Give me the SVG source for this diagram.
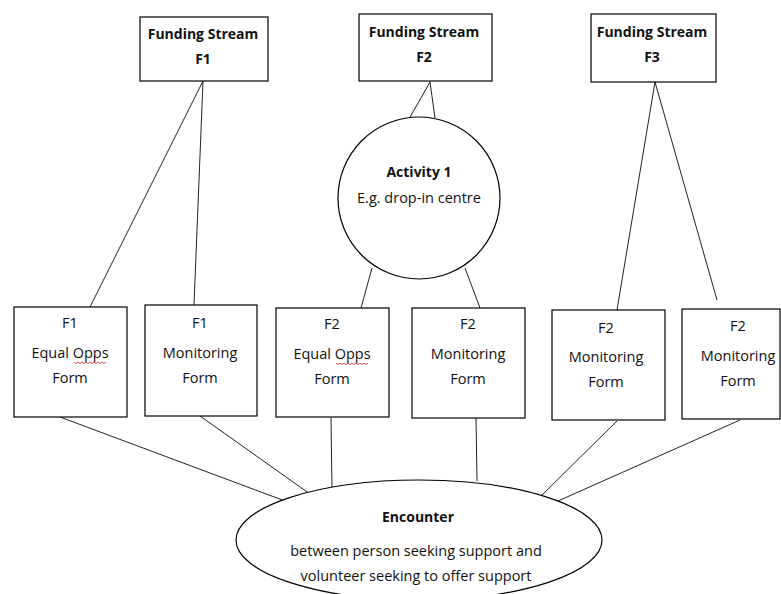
<svg xmlns="http://www.w3.org/2000/svg" width="781" height="594" viewBox="0 0 781 594">
<style>
.box{fill:#fff;stroke:#000;stroke-width:1.2}
.ln{stroke:#222;stroke-width:1;fill:none}
text{font-family:"Open Sans","Liberation Sans",sans-serif;font-size:14.5px;fill:#111;text-anchor:middle}
.b{font-weight:bold;font-size:14px}
.sq{stroke:#d02020;stroke-width:0.8;fill:none}
</style>
<rect width="781" height="594" fill="#fff"/>
<g id="connectors">
<line class="ln" x1="203" y1="81" x2="90" y2="307"/>
<line class="ln" x1="203" y1="81" x2="194" y2="305"/>
<line class="ln" x1="430" y1="82" x2="409" y2="119"/>
<line class="ln" x1="430" y1="82" x2="435" y2="118"/>
<line class="ln" x1="372" y1="268" x2="361" y2="308"/>
<line class="ln" x1="465" y1="268" x2="480" y2="308"/>
<line class="ln" x1="655" y1="82" x2="617" y2="310"/>
<line class="ln" x1="655" y1="82" x2="717" y2="300"/>
<line class="ln" x1="60" y1="417" x2="285" y2="501"/>
<line class="ln" x1="200" y1="416" x2="310" y2="494"/>
<line class="ln" x1="331" y1="418" x2="332" y2="488"/>
<line class="ln" x1="476" y1="418" x2="477" y2="481"/>
<line class="ln" x1="617" y1="421" x2="542" y2="495"/>
<line class="ln" x1="740" y1="420" x2="558" y2="501"/>
</g>
<g id="fs1">
<rect class="box" x="140" y="17" width="128" height="64"/>
<text class="b" x="203" y="39">Funding Stream</text>
<text class="b" x="203" y="64">F1</text>
</g>
<g id="fs2">
<rect class="box" x="359" y="14" width="133" height="67"/>
<text class="b" x="424" y="37">Funding Stream</text>
<text class="b" x="424" y="62">F2</text>
</g>
<g id="fs3">
<rect class="box" x="591" y="14" width="125" height="68"/>
<text class="b" x="652" y="37">Funding Stream</text>
<text class="b" x="652" y="62">F3</text>
</g>
<g id="activity1">
<circle class="box" cx="419" cy="198" r="81"/>
<text class="b" x="419" y="177">Activity 1</text>
<text x="419" y="203">E.g. drop-in centre</text>
</g>
<g id="f1eq">
<rect class="box" x="14" y="307" width="113" height="110"/>
<text x="70" y="328">F1</text>
<text x="70" y="358">Equal Opps</text>
<text x="70" y="383">Form</text>
<path class="sq" d="M74 362 l2 1.5 l2 -1.5 l2 1.5 l2 -1.5 l2 1.5 l2 -1.5 l2 1.5 l2 -1.5 l2 1.5 l2 -1.5 l2 1.5 l2 -1.5 l2 1.5 l2 -1.5 l2 1.5 l2 -1.5"/>
</g>
<g id="f1mon">
<rect class="box" x="145" y="305" width="112" height="111"/>
<text x="200" y="328">F1</text>
<text x="200" y="358">Monitoring</text>
<text x="200" y="383">Form</text>
</g>
<g id="f2eq">
<rect class="box" x="276" y="308" width="113" height="109"/>
<text x="332" y="329">F2</text>
<text x="332" y="359">Equal Opps</text>
<text x="332" y="384">Form</text>
<path class="sq" d="M336 363 l2 1.5 l2 -1.5 l2 1.5 l2 -1.5 l2 1.5 l2 -1.5 l2 1.5 l2 -1.5 l2 1.5 l2 -1.5 l2 1.5 l2 -1.5 l2 1.5 l2 -1.5 l2 1.5 l2 -1.5"/>
</g>
<g id="f2mon">
<rect class="box" x="412" y="308" width="113" height="110"/>
<text x="468" y="329">F2</text>
<text x="468" y="359">Monitoring</text>
<text x="468" y="384">Form</text>
</g>
<g id="f3mon1">
<rect class="box" x="552" y="310" width="113" height="110"/>
<text x="606" y="333">F2</text>
<text x="606" y="362">Monitoring</text>
<text x="606" y="387">Form</text>
</g>
<g id="f3mon2">
<rect class="box" x="682" y="309" width="98" height="110"/>
<text x="738" y="331">F2</text>
<text x="738" y="361">Monitoring</text>
<text x="738" y="386">Form</text>
</g>
<g id="encounter">
<ellipse class="box" cx="419" cy="540" rx="183" ry="60"/>
<text class="b" x="418" y="522">Encounter</text>
<text x="416" y="556">between person seeking support and</text>
<text x="416" y="581">volunteer seeking to offer support</text>
</g>
</svg>
